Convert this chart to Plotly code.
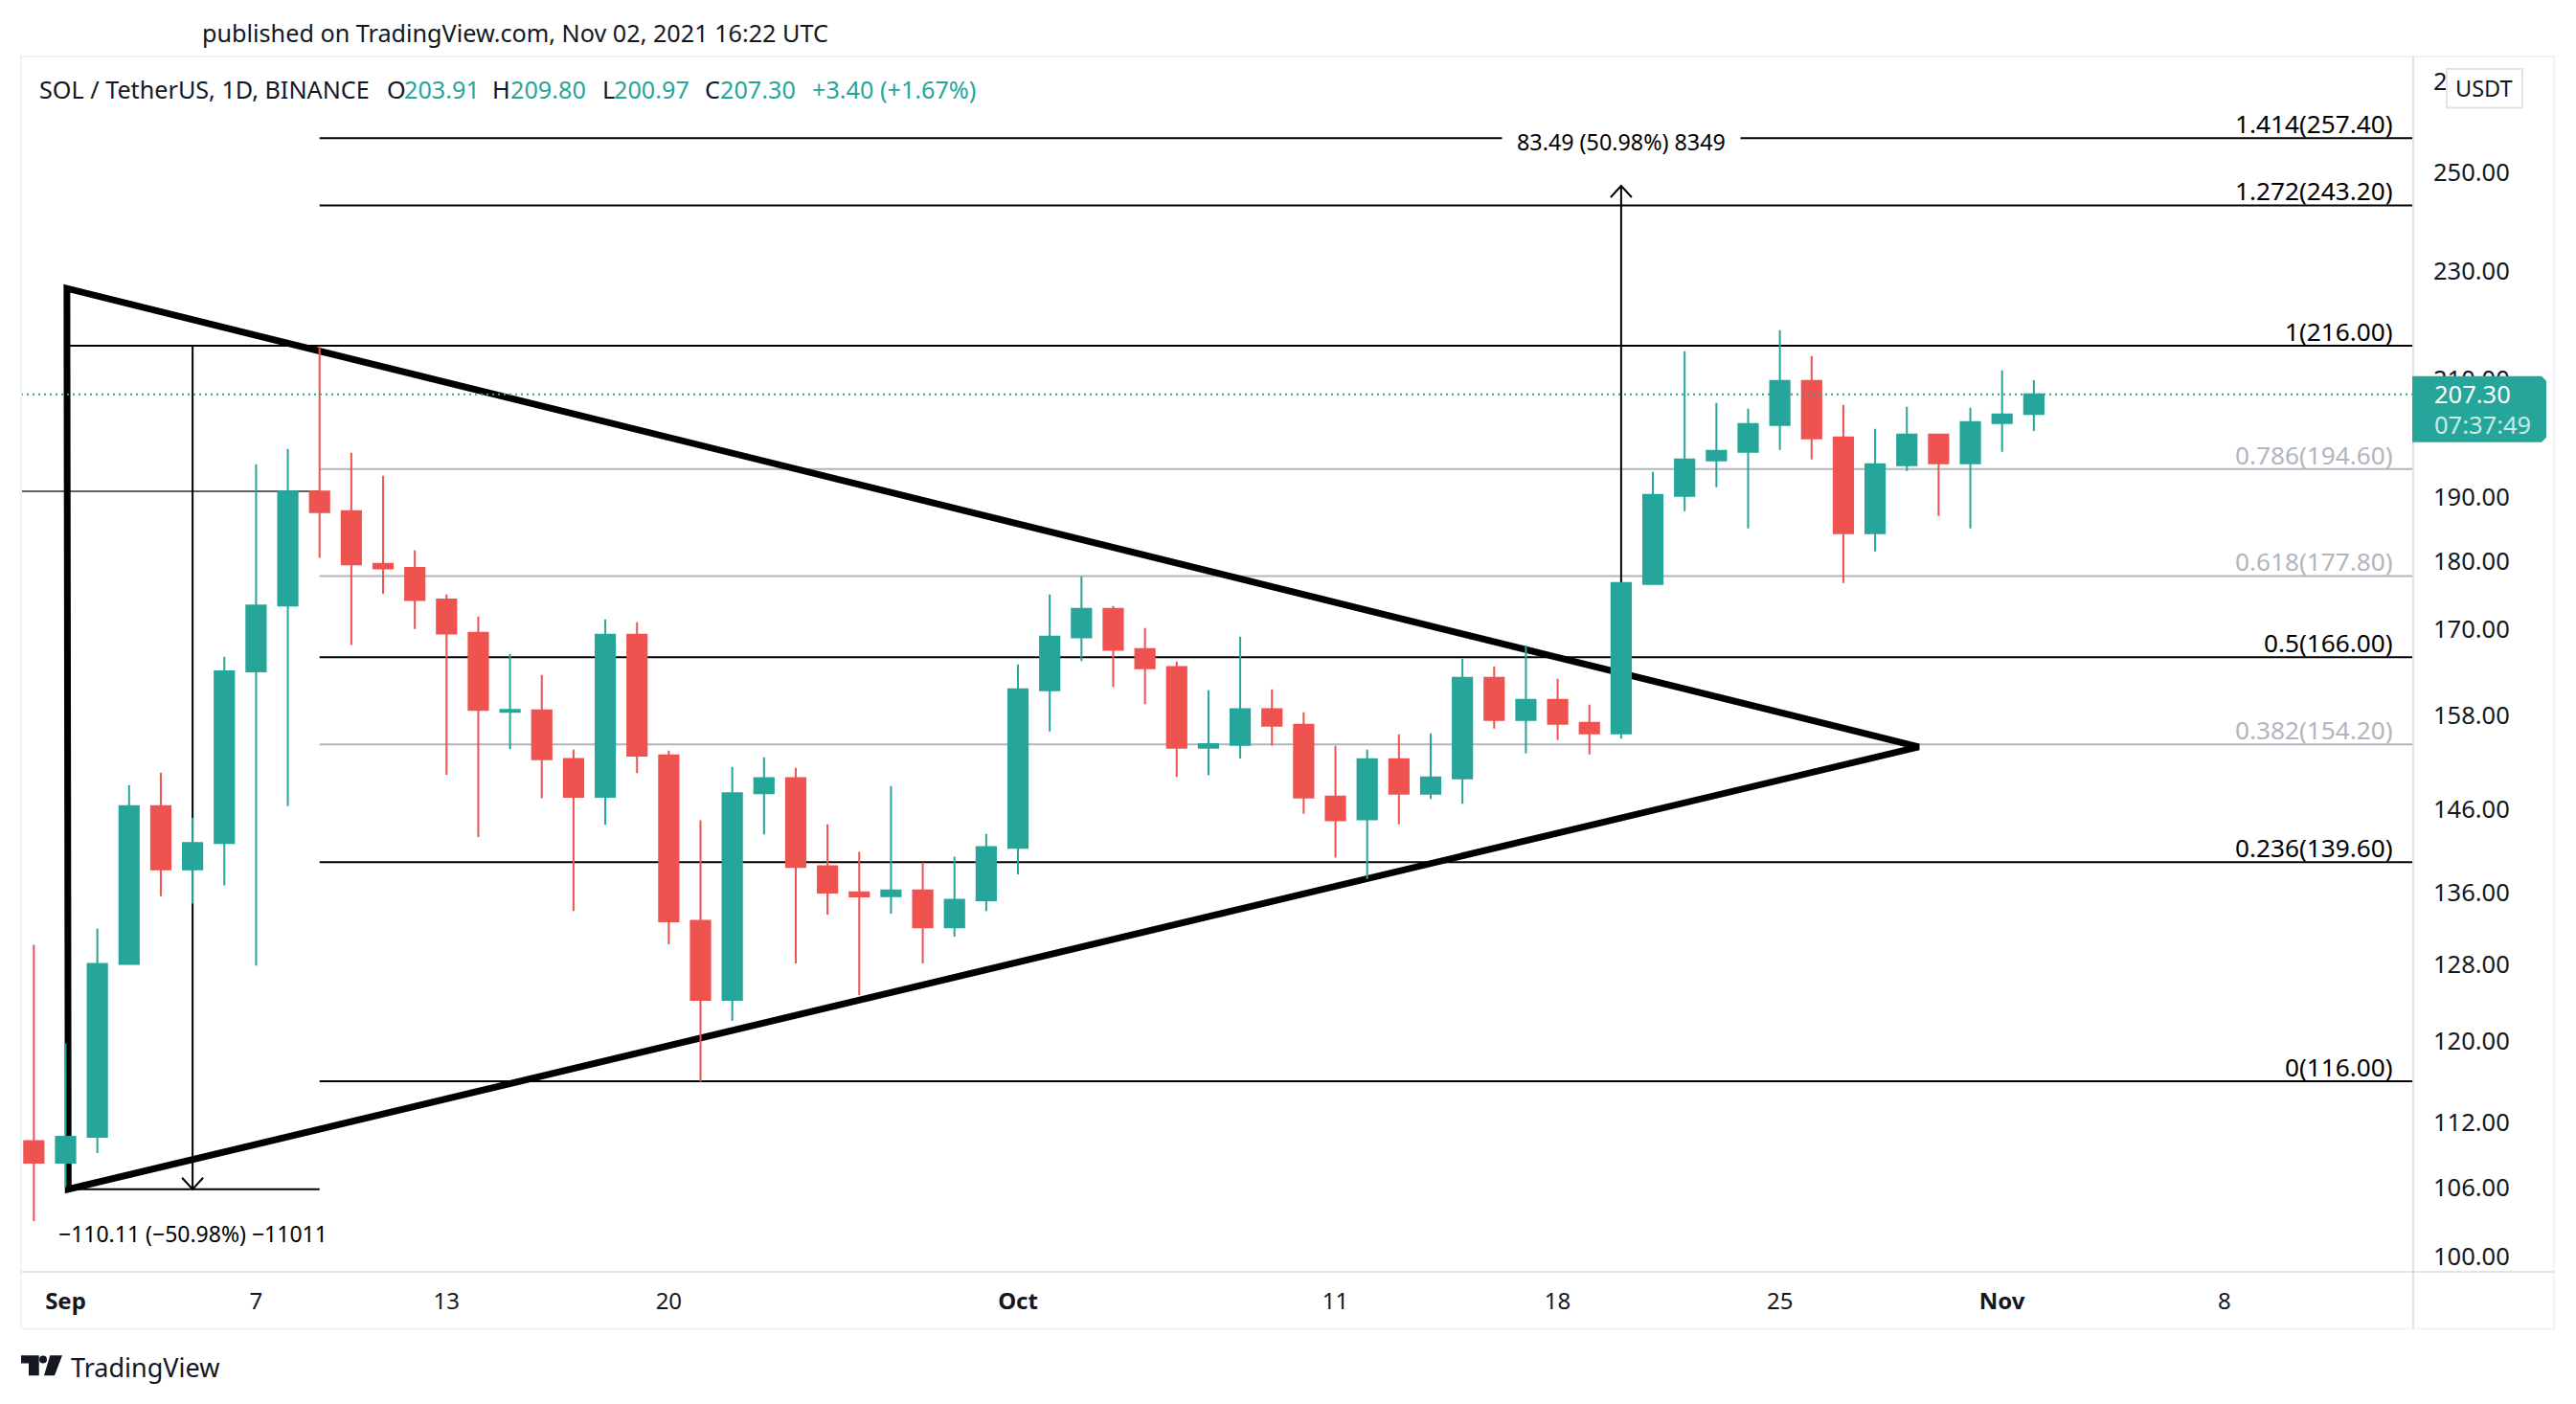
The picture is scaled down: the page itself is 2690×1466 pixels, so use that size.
import math

import pandas as pd
import plotly.graph_objects as go

# daily candles, Aug 31 to Nov 2 2021
dates = pd.date_range("2021-08-31", periods=64).strftime("%Y-%m-%d").tolist()
opens = [110.28, 108.3, 110.69, 128.11, 146.38, 138.77, 141.87, 164.02, 173.42, 190.97, 187.81, 179.64, 179.01, 174.3, 169.47, 158.53,
         158.72, 152.33, 147.53, 169.2, 152.8, 132.86, 124.27, 147.99, 149.88, 139.11, 136.1, 135.66, 136.32, 132.12, 135.18, 141.31,
         161.44, 168.8, 172.93, 167.16, 164.62, 153.79, 154.16, 158.86, 156.81, 147.57, 144.74, 152.3, 147.93, 149.86, 163.15, 157.44,
         160.14, 157.06, 155.67, 176.61, 190.26, 196.04, 197.47, 202.0, 209.65, 199.88, 184.35, 195.25, 200.37, 195.56, 202.32, 203.91]
highs = [130.18, 119.77, 131.98, 149.01, 150.59, 144.92, 166.08, 195.4, 197.95, 215.9, 197.31, 193.52, 181.68, 175.04, 171.82, 166.48,
         163.54, 153.54, 171.4, 170.99, 153.42, 144.64, 151.32, 152.55, 151.2, 144.15, 140.81, 148.89, 139.58, 140.24, 142.99, 165.01,
         175.04, 177.71, 173.35, 170.16, 165.41, 161.44, 168.92, 161.57, 158.46, 154.04, 153.54, 155.54, 155.67, 165.81, 164.74, 167.7,
         163.02, 159.49, 176.9, 194.14, 214.98, 205.79, 204.79, 218.84, 214.11, 205.46, 201.34, 205.12, 200.53, 204.96, 211.53, 209.80]
lows = [103.08, 106.08, 109.17, 128.11, 135.66, 134.79, 136.88, 127.92, 146.38, 180.54, 167.74, 175.1, 170.02, 150.3, 142.6, 153.59,
        147.34, 133.96, 144.07, 150.53, 130.25, 115.96, 122.08, 142.93, 128.16, 133.54, 124.77, 133.65, 128.16, 131.08, 133.96, 138.16,
        155.92, 165.45, 161.9, 159.56, 150.02, 150.25, 152.37, 154.06, 145.44, 140.13, 137.65, 144.15, 147.26, 146.67, 156.3, 153.07,
        154.79, 152.92, 154.98, 176.61, 187.81, 191.65, 185.09, 197.79, 196.2, 176.75, 181.54, 194.3, 187.05, 185.09, 197.47, 200.97]
closes = [108.3, 110.69, 128.11, 146.38, 138.77, 141.87, 164.02, 173.42, 190.97, 187.66, 179.56, 178.94, 174.23, 169.37, 158.78, 158.78,
          152.3, 147.53, 169.2, 152.75, 132.81, 124.27, 147.99, 149.88, 139.03, 136.05, 135.62, 136.32, 132.12, 135.24, 141.38, 161.57,
          168.92, 172.93, 167.03, 164.47, 153.79, 154.26, 158.86, 156.68, 147.45, 144.62, 152.3, 147.93, 149.98, 163.15, 157.44, 160.14,
          156.93, 155.67, 176.75, 190.41, 196.2, 197.63, 202.16, 209.65, 199.72, 184.35, 195.4, 200.37, 195.56, 202.49, 203.8, 207.30]

fib_ratios = ["1.414", "1.272", "1", "0.786", "0.618", "0.5", "0.382", "0.236", "0"]
fib_prices = [257.40, 243.20, 216.00, 194.60, 177.80, 166.00, 154.20, 139.60, 116.00]
fib_muted = [False, False, False, True, True, False, True, False, False]

triangle_x = ["2021-09-01_01:00", "2021-09-01_02:00", "2021-10-29_09:00"]
triangle_y = [226.7, 105.89, 153.9]

ytick_vals = [270, 250, 230, 210, 190, 180, 170, 158, 146, 136, 128, 120, 112, 106, 100]
xtick_vals = ["2021-09-01", "2021-09-07", "2021-09-13", "2021-09-20", "2021-10-01", "2021-10-11", "2021-10-18", "2021-10-25", "2021-11-01", "2021-11-08"]
xtick_text = ["<b>Sep</b>", "7", "13", "20", "<b>Oct</b>", "11", "18", "25", "<b>Nov</b>", "8"]

x_left = "2021-08-30 14:20"
x_right = "2021-11-13 22:48"
fib_start = "2021-09-09"
drop_start = "2021-09-01 02:00"
drop_x = "2021-09-05"
drop_top = 216.0
drop_bottom = 105.89
rise_x = "2021-10-20"
rise_bottom = 163.76
rise_top = 247.25
marker_price = 191.0
last_close = 207.30

UP = "#26a69a"
DOWN = "#ef5350"
INK = "#131722"
MUTED = "#b2b5be"
EDGE = "#e0e3eb"
FONT = "Noto Sans"

W, H = 2690, 1466
L, R, T, B = 22, 2520, 59, 1328.5


def px(x):
    return (x - L) / (R - L)


def py(y):
    return 1 - (y - T) / (B - T)


def label(x, y, text, size=25.2, color=INK, anchor="left"):
    return dict(xref="paper", yref="paper", x=px(x), y=py(y), text=text, showarrow=False,
                xanchor=anchor, yanchor="middle", borderpad=0,
                font=dict(family=FONT, size=size, color=color))


def seg(x0, x1, y0, y1, color="black", width=2):
    # candlesticks sit under scatter traces, so the drawings go in as shapes below them
    return dict(type="line", xref="x", yref="y", x0=x0, x1=x1, y0=y0, y1=y1, layer="below",
                line=dict(color=color, width=width))


def rect(x0, y0, x1, y1, **kw):
    return dict(type="rect", xref="paper", yref="paper", x0=px(x0), x1=px(x1), y0=py(y0), y1=py(y1), **kw)


def poly(points, color):
    path = "M" + " L".join(f"{px(x):.5f},{py(y):.5f}" for x, y in points) + " Z"
    return dict(type="path", xref="paper", yref="paper", path=path, fillcolor=color, line=dict(width=0))


def chevron(x, y, wing):
    return dict(type="path", xref="x", yref="y", xsizemode="pixel", ysizemode="pixel",
                xanchor=x, yanchor=y, path=f"M-11,{wing} L0,0 L11,{wing}", line=dict(color="black", width=2))


fig = go.Figure()

fig.add_trace(go.Candlestick(x=dates, open=opens, high=highs, low=lows, close=closes,
                             whiskerwidth=0, hoverinfo="skip",
                             increasing=dict(line=dict(color=UP, width=2), fillcolor=UP),
                             decreasing=dict(line=dict(color=DOWN, width=2), fillcolor=DOWN)))

fig.add_trace(go.Scatter(x=[x_left, x_right], y=[last_close, last_close], mode="lines", hoverinfo="skip",
                         line=dict(color=UP, width=2, dash="2px,4px")))

annotations = [
    label(210, 33.5, "published on TradingView.com, Nov 02, 2021 16:22 UTC"),
    label(40, 93, "SOL / TetherUS, 1D, BINANCE"),
]
for x, text, color in [(403, "O", INK), (421, "203.91", UP), (513, "H", INK), (532, "209.80", UP),
                       (628, "L", INK), (640, "200.97", UP), (735, "C", INK), (751, "207.30", UP),
                       (847, "+3.40 (+1.67%)", UP)]:
    annotations.append(label(x, 93, text, color=color))

for ratio, price, muted in zip(fib_ratios, fib_prices, fib_muted):
    annotations.append(dict(xref="paper", yref="y", x=px(2500), y=math.log10(price), yanchor="bottom", yshift=-4,
                            xanchor="right", text=f"{ratio}({price:.2f})", showarrow=False, borderpad=0,
                            font=dict(family=FONT, size=26.2, color=MUTED if muted else "black")))

measure_up = label(1692.5, 147.7, "83.49 (50.98%) 8349", 23.3, "black", "center")
measure_up.update(bgcolor="white", borderpad=15)
annotations.append(measure_up)
annotations.append(label(201, 1288.7, "\u2212110.11 (\u221250.98%) \u221211011", 23, "black", "center"))

annotations.append(label(2594, 92, "USDT", 23.5, INK, "center"))
annotations.append(label(2541, 411.6, "207.30", 25.5, "white"))
annotations.append(label(2541, 443, "07:37:49", 25.5, "#c9e9e6"))
annotations.append(label(73, 1428, "TradingView", 27, INK))

triangle_path = "M" + " L".join(f"{x},{y}" for x, y in zip(triangle_x, triangle_y)) + " Z"

shapes = [seg(fib_start, x_right, p, p, MUTED if m else "black") for p, m in zip(fib_prices, fib_muted)]
shapes += [
    seg(x_left, fib_start, marker_price, marker_price, "#5d606b"),
    seg(drop_start, x_right, drop_top, drop_top),
    seg(drop_start, fib_start, drop_bottom, drop_bottom),
    seg(drop_x, drop_x, drop_top, drop_bottom),
    seg(rise_x, rise_x, rise_bottom, rise_top),
    dict(type="path", xref="x", yref="y", layer="below", path=triangle_path, line=dict(color="black", width=7)),
    rect(22, 59, 2667, 1388, line=dict(color="#f0f3fa", width=2)),
    dict(type="line", xref="paper", yref="paper", x0=px(2520), x1=px(2520), y0=py(59), y1=py(1388), line=dict(color=EDGE, width=2)),
    dict(type="line", xref="paper", yref="paper", x0=px(22), x1=px(2667), y0=py(1328.5), y1=py(1328.5), line=dict(color=EDGE, width=2)),
    poly([(2519, 393), (2654, 393), (2659, 398), (2659, 457), (2654, 462), (2519, 462)], UP),
    dict(rect(2555, 72, 2634, 112.5, line=dict(color=EDGE, width=2)), fillcolor="white"),
    poly([(22, 1415.7), (40.7, 1415.7), (40.7, 1436.7), (30, 1436.7), (30, 1424), (22, 1424)], INK),
    dict(type="circle", xref="paper", yref="paper", x0=px(41), x1=px(49), y0=py(1416), y1=py(1424), fillcolor=INK, line=dict(width=0)),
    poly([(52.3, 1415.7), (65, 1415.7), (57, 1436.7), (46, 1436.7)], INK),
    chevron(drop_x, drop_bottom, 12),
    chevron(rise_x, rise_top, -12),
]

fig.update_layout(
    width=W, height=H,
    margin=dict(l=L, r=W - R, t=T, b=H - B, pad=0),
    paper_bgcolor="white", plot_bgcolor="white",
    showlegend=False, boxgap=0.13,
    font=dict(family=FONT, color=INK),
    annotations=annotations, shapes=shapes,
    xaxis=dict(type="date", range=[x_left, x_right], rangeslider=dict(visible=False), showgrid=False, zeroline=False,
               tickmode="array", tickvals=xtick_vals, ticktext=xtick_text, ticks="", ticklabelstandoff=14,
               tickfont=dict(family=FONT, size=24, color=INK)),
    yaxis=dict(type="log", range=[math.log10(98.75), math.log10(275.8)], side="right", showgrid=False, zeroline=False,
               tickmode="array", tickvals=ytick_vals, ticktext=[f"{v:.2f}" for v in ytick_vals], ticks="", ticklabelstandoff=20,
               tickfont=dict(family=FONT, size=25.5, color=INK)),
)

# the page's default body margin would push the chart 8px off
fig.write_html("out.html", config={"displayModeBar": False}, post_script="document.body.style.margin='0';")
